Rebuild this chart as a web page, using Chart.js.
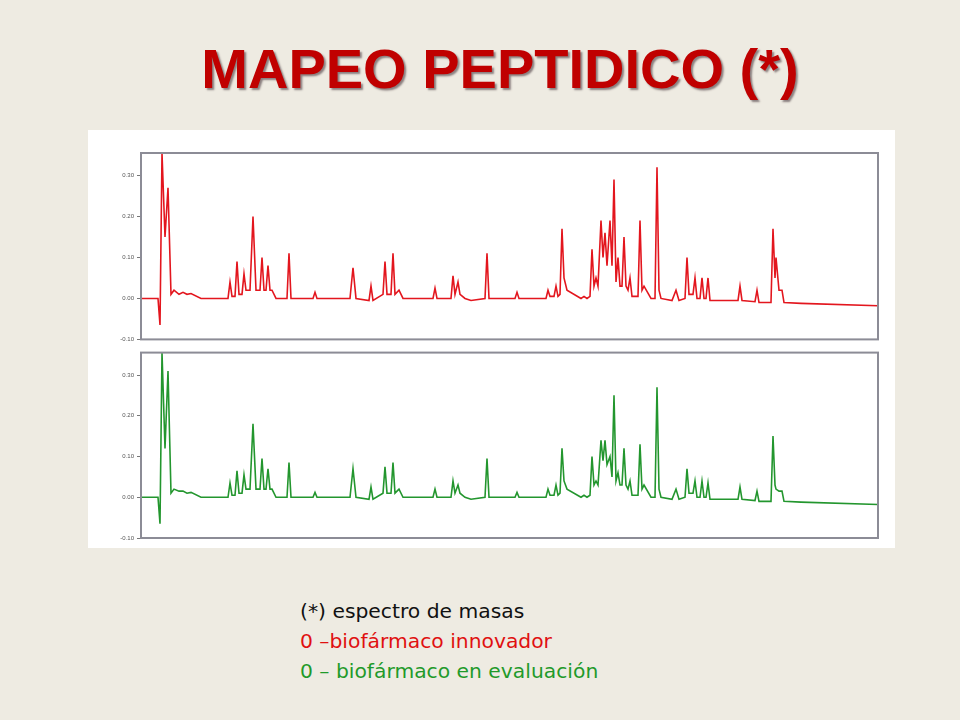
<!DOCTYPE html>
<html>
<head>
<meta charset="utf-8">
<script src="https://cdn.jsdelivr.net/npm/chart.js@4/dist/chart.umd.min.js"></script>
<style>
  body { margin: 0; width: 960px; height: 720px; background: #eeebe2; position: relative; overflow: hidden; font-family: "Liberation Sans", Arial, sans-serif; }
  h1 { position: absolute; left: 0; width: 1000px; top: 36px; margin: 0; text-align: center; font-size: 56px; font-weight: bold; color: #c00000; text-shadow: 2px 2px 2px #8a7f7f; }
  .panel { position: absolute; background: #fff; }
  .note { position: absolute; left: 300px; font-size: 20.3px; font-family: "DejaVu Sans", sans-serif; }
</style>
</head>
<body>
<h1>MAPEO PEPTIDICO (*)</h1>
<div class="panel" style="left:88px;top:130px;width:807px;height:418px"></div>
<div style="position:absolute;left:88px;top:130px;width:807px;height:216px"><canvas id="top"></canvas></div>
<div style="position:absolute;left:88px;top:346px;width:807px;height:202px"><canvas id="bottom"></canvas></div>
<div class="note" style="top:599px;color:#111">(*) espectro de masas</div>
<div class="note" style="top:629px;color:#e01010">0 –biofármaco innovador</div>
<div class="note" style="top:659px;color:#1f9a2a">0 – biofármaco en evaluación</div>
<script>
// retention position (arbitrary units, 0-740) and absorbance, one line per region
const redX = [
  0, 17, 19, 21, 24, 27, 30, 33, 38, 42, 46, 50, 60,
  87, 89, 91, 94, 96, 98, 101, 103, 105, 109, 112, 115, 119, 121, 123, 125, 127, 129, 131, 135,
  146, 148, 150, 172, 174, 176, 209, 212, 215, 228, 230, 232, 242, 244, 246, 250, 252, 254, 258, 262,
  292, 294, 296, 310, 312, 314, 317, 319, 324, 330, 344, 346, 348, 374, 376, 378, 405, 407, 409,
  413, 415, 417, 419, 421, 423, 426, 440, 443, 446,
  449, 451, 453, 455, 457, 460, 462, 464, 466, 469, 471, 473, 475, 477, 479, 481, 483, 485, 487, 489, 491,
  497, 499, 501, 503, 510, 514, 516, 518, 520, 531, 535, 538, 544, 546, 548, 552, 554, 556, 559, 561, 563,
  565, 567, 569, 580, 597, 599, 601, 614, 616, 618, 630, 632, 634, 635, 638, 641, 643, 660, 740
];
const redY = [
  0, 0, -0.065, 0.355, 0.15, 0.27, 0.01, 0.02, 0.01, 0.015, 0.01, 0.012, 0,
  0, 0.04, 0.005, 0.005, 0.09, 0.01, 0.01, 0.06, 0.02, 0.02, 0.2, 0.02, 0.02, 0.1, 0.02, 0.02, 0.08, 0.02, 0.02, 0,
  0, 0.11, 0, 0, 0.015, 0, 0, 0.075, 0, -0.005, 0.03, -0.005, 0.01, 0.09, 0.01, 0.01, 0.11, 0.01, 0.02, 0,
  0, 0.025, 0, 0, 0.055, 0.01, 0.04, 0.01, 0, -0.005, 0, 0.11, 0, 0, 0.015, 0, 0, 0.02, 0.005,
  0.005, 0.03, 0.005, 0.01, 0.17, 0.05, 0.02, 0, 0.005, 0,
  0.005, 0.12, 0.03, 0.05, 0.03, 0.19, 0.1, 0.16, 0.08, 0.19, 0.08, 0.29, 0.04, 0.1, 0.03, 0.03, 0.15, 0.03, 0.02, 0.05, 0.005,
  0.005, 0.19, 0.02, 0.03, 0, 0, 0.32, 0.02, 0, -0.005, 0.02, -0.005, 0, 0.1, 0.01, 0.01, 0.05, 0, 0, 0.05, 0,
  0, 0.05, -0.005, -0.005, -0.005, 0.03, -0.005, -0.008, 0.02, -0.01, -0.01, 0.17, 0.05, 0.1, 0.02, 0.02, -0.01, -0.012, -0.018
];
const greenY = [
  0, 0, -0.065, 0.355, 0.12, 0.31, 0.01, 0.02, 0.015, 0.015, 0.01, 0.012, 0,
  0, 0.035, 0.005, 0.005, 0.065, 0.01, 0.01, 0.055, 0.02, 0.02, 0.18, 0.02, 0.02, 0.095, 0.02, 0.02, 0.07, 0.02, 0.02, 0,
  0, 0.085, 0, 0, 0.012, 0, 0, 0.07, 0, -0.005, 0.025, -0.005, 0.01, 0.075, 0.01, 0.01, 0.085, 0.01, 0.02, 0,
  0, 0.02, 0, 0, 0.04, 0.01, 0.03, 0.01, 0, -0.005, 0, 0.095, 0, 0, 0.012, 0, 0, 0.02, 0.005,
  0.005, 0.03, 0.005, 0.01, 0.12, 0.04, 0.02, 0, 0.005, 0,
  0.005, 0.1, 0.03, 0.04, 0.03, 0.14, 0.09, 0.14, 0.08, 0.1, 0.05, 0.25, 0.04, 0.06, 0.03, 0.03, 0.12, 0.03, 0.02, 0.04, 0.005,
  0.005, 0.13, 0.02, 0.03, 0, 0, 0.27, 0.02, 0, -0.005, 0.02, -0.005, 0, 0.07, 0.01, 0.01, 0.04, 0, 0, 0.04, 0,
  0, 0.035, -0.005, -0.005, -0.005, 0.025, -0.005, -0.008, 0.015, -0.01, -0.01, 0.15, 0.03, 0.02, 0.015, 0.015, -0.01, -0.012, -0.018
];
const yTicks = [-0.1, 0, 0.1, 0.2, 0.3];

const frame = {
  id: 'frame',
  afterDraw(chart) {
    const a = chart.chartArea, c = chart.ctx;
    c.save();
    c.strokeStyle = '#8c8c96';
    c.lineWidth = 2;
    c.strokeRect(a.left, a.top, a.right - a.left, a.bottom - a.top);
    c.restore();
  }
};

function makeChart(id, ys, color, pad) {
  new Chart(document.getElementById(id), {
    type: 'line',
    data: {
      datasets: [{
        data: redX.map((x, i) => ({ x: x, y: ys[i] })),
        borderColor: color,
        borderWidth: 1.6,
        pointRadius: 0,
        tension: 0
      }]
    },
    options: {
      responsive: true,
      maintainAspectRatio: false,
      animation: false,
      layout: { padding: pad },
      plugins: { legend: { display: false }, tooltip: { enabled: false } },
      scales: {
        x: { type: 'linear', min: 0, max: 737, display: false },
        y: {
          min: -0.1, max: 0.355,
          afterBuildTicks: s => { s.ticks = yTicks.map(v => ({ value: v })); },
          afterFit: s => { s.width = 53; },
          grid: { drawOnChartArea: false, tickLength: 4, color: '#777' },
          border: { display: false },
          ticks: { font: { size: 6 }, color: '#555', callback: v => v.toFixed(2) }
        }
      }
    },
    plugins: [frame]
  });
}

makeChart('top', redY, '#e3161e', { top: 23, right: 17, bottom: 4, left: 0 });
makeChart('bottom', greenY, '#23962e', { top: 4, right: 17, bottom: 10, left: 0 });
</script>
</body>
</html>
